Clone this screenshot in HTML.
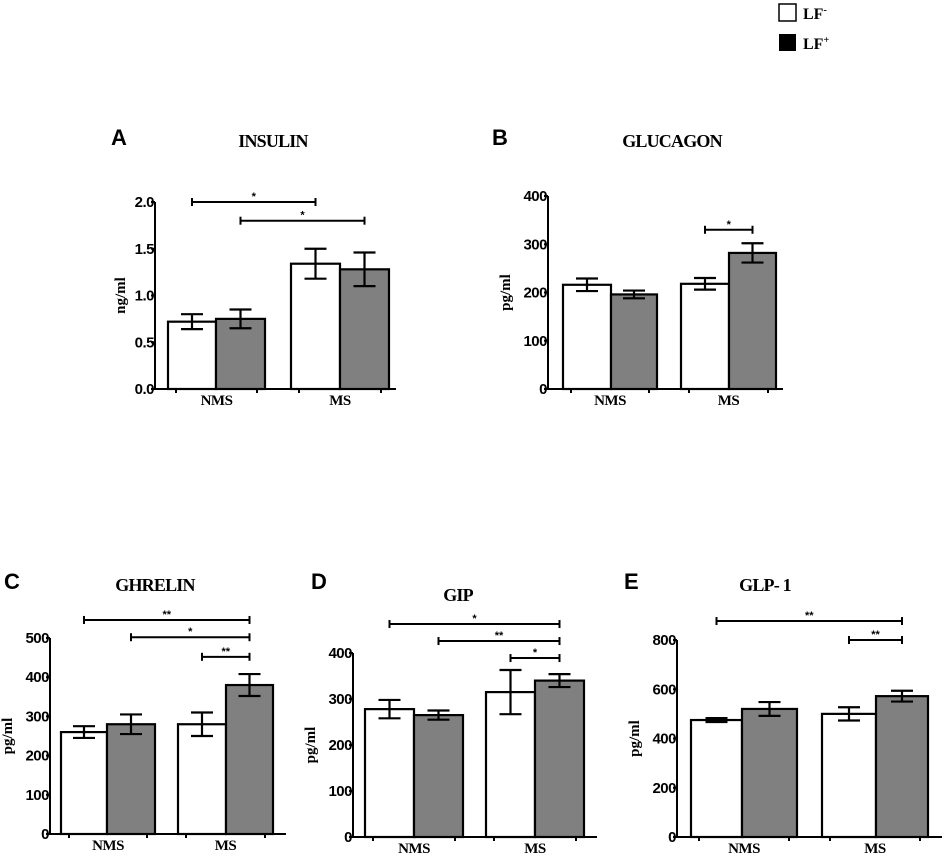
<!DOCTYPE html>
<html><head><meta charset="utf-8"><style>
body{margin:0;background:#fff;}
svg{display:block;}
.tick{font:bold 15px "Liberation Sans",sans-serif;letter-spacing:-0.5px;}
.ttl{font:bold 18px "Liberation Serif",serif;letter-spacing:-0.8px;}
.let{font:bold 22px "Liberation Sans",sans-serif;}
.cat{font:bold 15px "Liberation Serif",serif;letter-spacing:-0.5px;}
.yl{font:bold 15px "Liberation Serif",serif;}
</style></head><body>
<svg id="chart" width="945" height="861" xmlns="http://www.w3.org/2000/svg">
<g>
<rect x="779" y="4" width="17" height="17" fill="#fff" stroke="#000" stroke-width="1.5"/>
<text x="803" y="19" style="font:bold 16px 'Liberation Serif',serif">LF<tspan dy="-6" font-size="10">-</tspan></text>
<rect x="779" y="34" width="17" height="17" fill="#000"/>
<text x="803" y="49" style="font:bold 16px 'Liberation Serif',serif">LF<tspan dy="-6" font-size="10">+</tspan></text>
</g>
</svg>
<script>
// Data arrays
const categories = ["NMS", "MS"];
const insulinMean = [0.72, 0.75, 1.34, 1.28];
const insulinErr = [0.08, 0.10, 0.16, 0.18];
const insulinTicks = ["0.0", "0.5", "1.0", "1.5", "2.0"];
const glucagonMean = [216, 196, 218, 282];
const glucagonErr = [13, 8, 12, 20];
const glucagonTicks = ["0", "100", "200", "300", "400"];
const ghrelinMean = [260, 280, 280, 380];
const ghrelinErr = [15, 25, 30, 28];
const ghrelinTicks = ["0", "100", "200", "300", "400", "500"];
const gipMean = [278, 265, 315, 340];
const gipErr = [20, 10, 48, 14];
const gipTicks = ["0", "100", "200", "300", "400"];
const glp1Mean = [475, 520, 500, 572];
const glp1Err = [8, 28, 27, 22];
const glp1Ticks = ["0", "200", "400", "600", "800"];
// significance brackets: [fromBar, toBar, yValue, label]
const insulinSig = [[0, 2, 2.0, "*"], [1, 3, 1.8, "*"]];
const glucagonSig = [[2, 3, 330, "*"]];
const ghrelinSig = [[0, 3, 546, "**"], [1, 3, 502, "*"], [2, 3, 452, "**"]];
const gipSig = [[0, 3, 463, "*"], [1, 3, 426, "**"], [2, 3, 389, "*"]];
const glp1Sig = [[0, 3, 877, "**"], [2, 3, 800, "**"]];

const NS = "http://www.w3.org/2000/svg";
const svg = document.getElementById("chart");
function mk(tag, attrs, parent, text) {
  const e = document.createElementNS(NS, tag);
  for (const k in attrs) e.setAttribute(k, attrs[k]);
  if (text !== undefined) e.textContent = text;
  parent.appendChild(e);
  return e;
}

function panel(cfg) {
  const g = mk("g", {}, svg);
  
  
  const ymax = parseFloat(cfg.ticks[cfg.ticks.length - 1]);
  const y = v => cfg.zero - (v / ymax) * (cfg.zero - cfg.top);
  const edges = cfg.edges;
  const barL = [edges[0], edges[1], edges[3], edges[4]];
  const barR = [edges[1], edges[2], edges[4], edges[5]];
  const cx = i => (barL[i] + barR[i]) / 2;
  const lt = mk("text", {x: cfg.letX, y: cfg.letY, class: "let"}, g, cfg.letter);
  
  
  const tt = mk("text", {x: cfg.titleX, y: cfg.titleY, class: "ttl", "text-anchor": "middle"}, g, cfg.title);
  
  
  cfg.mean.forEach((m, i) => {
    const r = mk("rect", {x: barL[i], y: y(m), width: barR[i] - barL[i], height: cfg.zero - y(m),
      fill: i % 2 ? "#808080" : "#fff", stroke: "#000", "stroke-width": 2.2}, g);
    
    
  });
  cfg.mean.forEach((m, i) => {
    const e = cfg.err[i], c = cx(i), w = 11;
    const eg = mk("g", {stroke: "#000", "stroke-width": 2.2}, g);
    
    
    mk("line", {x1: c, x2: c, y1: y(m + e), y2: y(m - e)}, eg);
    mk("line", {x1: c - w, x2: c + w, y1: y(m + e), y2: y(m + e)}, eg);
    mk("line", {x1: c - w, x2: c + w, y1: y(m - e), y2: y(m - e)}, eg);
  });
  const ax = mk("g", {stroke: "#000", "stroke-width": 2}, g);
  
  
  mk("line", {x1: cfg.axisX, x2: cfg.axisX, y1: cfg.top, y2: cfg.zero}, ax);
  mk("line", {x1: cfg.axisX - 4, x2: cfg.xEnd, y1: cfg.zero, y2: cfg.zero}, ax);
  cfg.ticks.forEach(t => {
    const yy = y(parseFloat(t));
    mk("line", {x1: cfg.axisX - 4, x2: cfg.axisX, y1: yy, y2: yy}, ax);
    const tl = mk("text", {x: cfg.axisX - 1, y: yy + 5, class: "tick", "text-anchor": "end", stroke: "none"}, g, t);
    
    
  });
  categories.forEach((c, k) => {
    const l = edges[k * 3], r = edges[k * 3 + 2];
    mk("line", {x1: l + 8, x2: l + 8, y1: cfg.zero, y2: cfg.zero + 4}, ax);
    mk("line", {x1: r - 8, x2: r - 8, y1: cfg.zero, y2: cfg.zero + 4}, ax);
    const cl = mk("text", {x: (l + r) / 2, y: cfg.zero + 16, class: "cat", "text-anchor": "middle"}, g, c);
    
    
  });
  const ylx = cfg.axisX - cfg.ylOff, ylY = (cfg.top + cfg.zero) / 2;
  const yl = mk("text", {x: ylx, y: ylY, class: "yl", "text-anchor": "middle",
    transform: `rotate(-90 ${ylx} ${ylY})`}, g, cfg.unit);
  
  
  cfg.sig.forEach(s => {
    const x1 = cx(s[0]), x2 = cx(s[1]), yy = y(s[2]);
    const sg = mk("g", {}, g);
    
    
    mk("line", {x1, x2, y1: yy, y2: yy, stroke: "#000", "stroke-width": 2}, sg);
    mk("line", {x1: x1, x2: x1, y1: yy - 4, y2: yy + 4, stroke: "#000", "stroke-width": 2}, sg);
    mk("line", {x1: x2, x2: x2, y1: yy - 4, y2: yy + 4, stroke: "#000", "stroke-width": 2}, sg);
    mk("text", {x: (x1 + x2) / 2, y: yy - 2, "text-anchor": "middle",
      style: "font:bold 11px 'Liberation Sans',sans-serif"}, sg, s[3]);
  });
}

panel({name: "insulin", letter: "A", letX: 111, letY: 145, title: "INSULIN", titleX: 273, titleY: 147,
  axisX: 155, top: 202, zero: 389, xEnd: 396, edges: [168, 216, 265, 291, 340, 389],
  mean: insulinMean, err: insulinErr, ticks: insulinTicks, sig: insulinSig, unit: "ng/ml", ylOff: 30});
panel({name: "glucagon", letter: "B", letX: 492, letY: 145, title: "GLUCAGON", titleX: 672, titleY: 147,
  axisX: 548, top: 196, zero: 389, xEnd: 783, edges: [563, 611, 657, 681, 729, 776],
  mean: glucagonMean, err: glucagonErr, ticks: glucagonTicks, sig: glucagonSig, unit: "pg/ml", ylOff: 38});
panel({name: "ghrelin", letter: "C", letX: 4, letY: 589, title: "GHRELIN", titleX: 155, titleY: 591,
  axisX: 50, top: 638, zero: 834, xEnd: 286, edges: [61, 107, 155, 178, 226, 273],
  mean: ghrelinMean, err: ghrelinErr, ticks: ghrelinTicks, sig: ghrelinSig, unit: "pg/ml", ylOff: 38});
panel({name: "gip", letter: "D", letX: 311, letY: 589, title: "GIP", titleX: 458, titleY: 601,
  axisX: 353, top: 653, zero: 837, xEnd: 597, edges: [365, 414, 463, 486, 535, 584],
  mean: gipMean, err: gipErr, ticks: gipTicks, sig: gipSig, unit: "pg/ml", ylOff: 38});
panel({name: "glp1", letter: "E", letX: 624, letY: 589, title: "GLP- 1", titleX: 765, titleY: 591,
  axisX: 677, top: 640, zero: 837, xEnd: 942, edges: [691, 742, 797, 822, 876, 928],
  mean: glp1Mean, err: glp1Err, ticks: glp1Ticks, sig: glp1Sig, unit: "pg/ml", ylOff: 38});
</script>
</body></html>
